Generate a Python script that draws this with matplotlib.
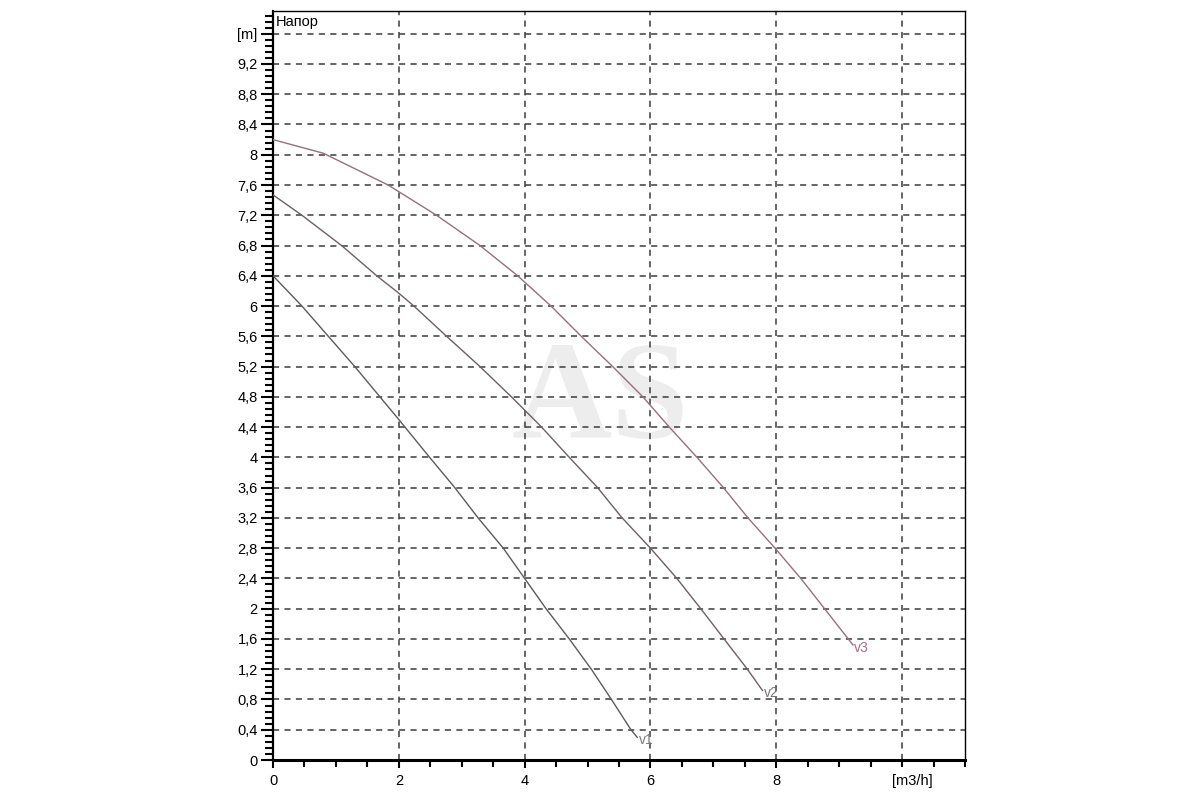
import matplotlib
matplotlib.use("Agg")
import matplotlib.pyplot as plt
from matplotlib.ticker import MultipleLocator, FixedLocator, FuncFormatter

plt.rcParams['font.family'] = ['Liberation Sans', 'DejaVu Sans']

# Data (flow m3/h, head m)
v1_q = [0, 0.46, 0.88, 1.30, 1.70, 2.0, 2.49, 2.89, 3.26, 3.66, 4.0, 4.34, 4.71, 5.06, 5.38, 5.69, 5.79]
v1_h = [6.4, 6.0, 5.6, 5.2, 4.8, 4.5, 4.0, 3.6, 3.2, 2.8, 2.4, 2.0, 1.6, 1.2, 0.8, 0.4, 0.3]

v2_q = [0, 0.46, 1.09, 1.65, 2.0, 2.24, 2.76, 3.29, 3.79, 4.27, 4.71, 5.16, 5.55, 6.0, 6.42, 6.80, 7.17, 7.54, 7.78]
v2_h = [7.47, 7.2, 6.8, 6.4, 6.17, 6.0, 5.6, 5.2, 4.8, 4.4, 4.0, 3.6, 3.2, 2.8, 2.4, 2.0, 1.6, 1.2, 0.92]

v3_q = [0, 0.8, 1.83, 2.60, 3.29, 3.89, 4.42, 4.90, 5.40, 5.88, 6.30, 6.74, 7.16, 7.55, 7.98, 8.39, 9.22]
v3_h = [8.2, 8.02, 7.6, 7.2, 6.8, 6.4, 6.0, 5.6, 5.2, 4.8, 4.4, 4.0, 3.6, 3.2, 2.8, 2.4, 1.52]

series_names = ["v1", "v2", "v3"]
line_colors = ["#5e5a5a", "#6e5f63", "#96707c"]
label_colors = ["#7a7a7a", "#7a7070", "#a0708c"]

y_ticks = [0.4 * i for i in range(25)]          # 0 .. 9.6
x_ticks = [0, 2, 4, 6, 8]

fig = plt.figure(figsize=(12, 8), dpi=100)
ax = fig.add_axes([273 / 1200, 1 - 760 / 800, (965 - 273) / 1200, (760 - 11) / 800])
ax.set_xlim(0, 11)
ax.set_ylim(0, 9.9)

# grid
for yv in y_ticks[1:]:
    ax.axhline(yv, color="#3c3c3c", lw=1.1, ls=(0, (4, 3.5)), zorder=1)
for xv in [2, 4, 6, 8, 10]:
    ax.axvline(xv, color="#3c3c3c", lw=1.1, ls=(0, (4, 3.5)), zorder=1)

# watermark
ax.text(5.2, 4.7, "AS", fontsize=100, fontweight="bold", family="Liberation Serif",
        color="#ededed", ha="center", va="center", zorder=0)

qs = [v1_q, v2_q, v3_q]
hs = [v1_h, v2_h, v3_h]
for name, q, h, lc, tc in zip(series_names, qs, hs, line_colors, label_colors):
    ax.plot(q, h, color=lc, lw=1.0, zorder=3)
    ax.annotate(name, (q[-1], h[-1]), xytext=(1, -2), textcoords="offset points",
                ha="left", va="center", color=tc, fontsize=10, zorder=4)

# ticks
ax.yaxis.set_major_locator(FixedLocator(y_ticks))
ax.yaxis.set_minor_locator(MultipleLocator(0.08))
ax.xaxis.set_major_locator(FixedLocator(x_ticks))
ax.xaxis.set_minor_locator(MultipleLocator(0.5))

def yfmt(v, pos):
    if abs(v - 9.6) < 1e-6:
        return "[m]"
    s = f"{v:.1f}".rstrip("0").rstrip(".")
    return s.replace(".", ",")

ax.yaxis.set_major_formatter(FuncFormatter(yfmt))
ax.xaxis.set_major_formatter(FuncFormatter(lambda v, p: f"{int(v)}"))

ax.tick_params(axis="y", which="major", length=9, width=1.5, direction="out",
               labelsize=10.5, pad=2, colors="black")
ax.tick_params(axis="y", which="minor", length=6, width=1.5, direction="out")
ax.tick_params(axis="x", which="major", length=6, width=1.5, direction="out",
               labelsize=10.5, pad=4)
ax.tick_params(axis="x", which="minor", length=5, width=1.5, direction="out")

ax.annotate("[m3/h]", (10, 0), xytext=(7, -10), textcoords="offset points",
            ha="center", va="top", fontsize=10.5, annotation_clip=False)

ax.text(0.05, 9.75, "Напор", fontsize=10.5, ha="left", va="center", zorder=4)

for s in ["top", "right"]:
    ax.spines[s].set_linewidth(1.0)
ax.spines["left"].set_linewidth(1.6)
ax.spines["bottom"].set_linewidth(2.2)

fig.savefig("out.png", dpi=100)
